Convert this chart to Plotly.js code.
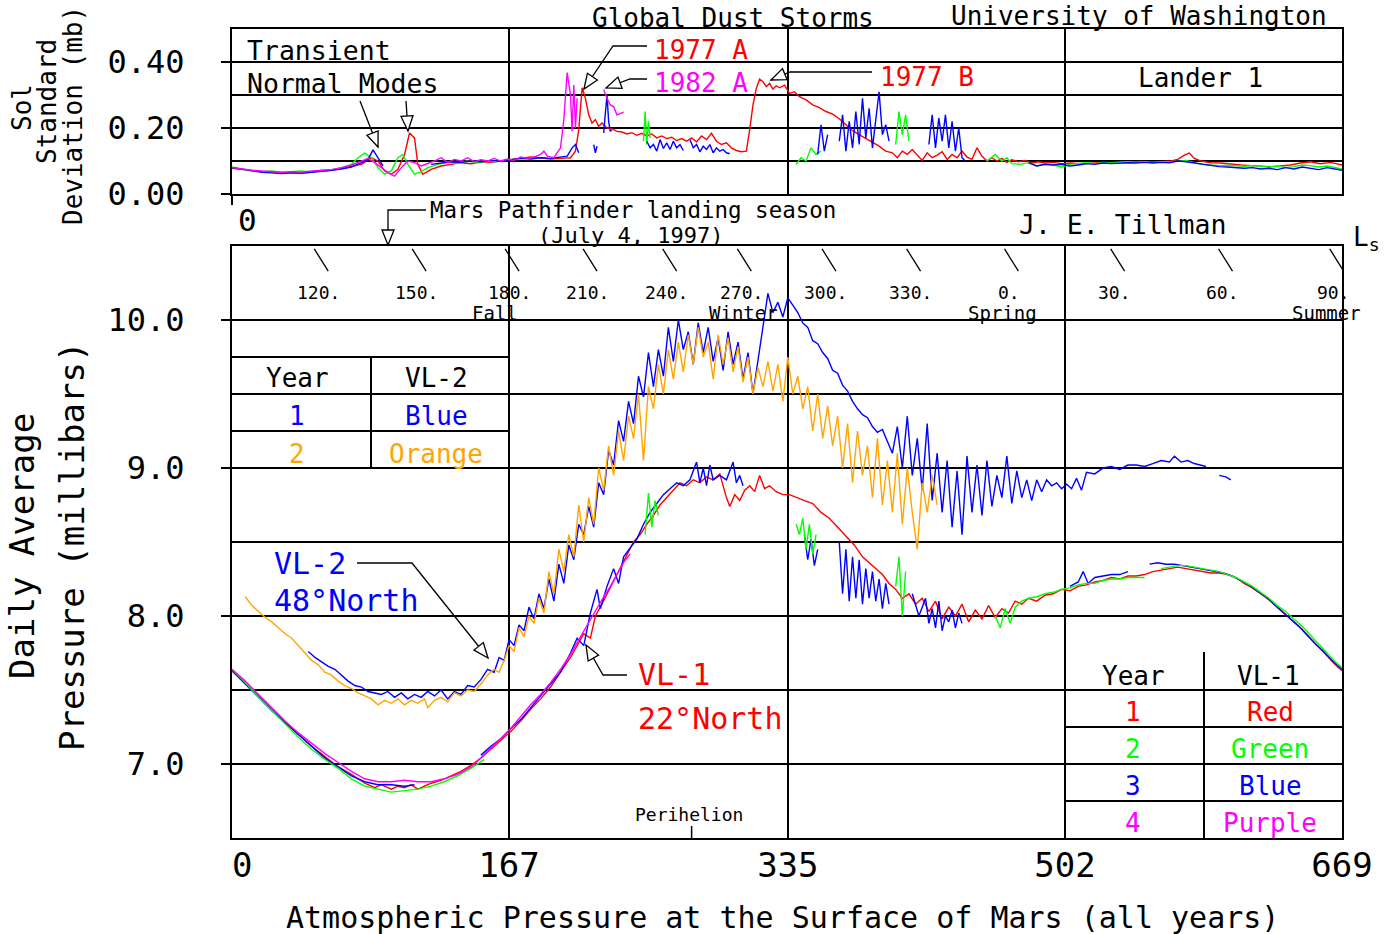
<!DOCTYPE html>
<html><head><meta charset="utf-8">
<script src="https://cdn.plot.ly/plotly-3.0.1.min.js"></script>
<style>html,body{margin:0;padding:0;background:#fff}</style>
</head><body>
<div id="chart" style="width:1392px;height:934px"></div>
<script>
// ---------------- DATA ----------------
const xTickVals = [0, 167, 335, 502, 669];
const xTickText = ['\u00a00', '167', '335', '502', '669'];
const lsLabels = ['120.','150.','180.','210.','240.','270.','300.','330.','0.','30.','60.','90.'];
const lsSols   = [52, 111, 167, 214, 262, 307, 358, 409, 468, 532, 597, 664];
const seasonNames = ['Fall', 'Winter', 'Spring', 'Summer'];
const seasonLs = ['180.', '270.', '0.', '90.'];
const perihelionSol = 277;

// VL-2 daily average pressure (mb): [sol, value]
const vl2Year1 = [[46,7.76],[50,7.72],[54,7.69],[58,7.66],[62,7.64],[66,7.60],[70,7.56],[74,7.53],[78,7.52],[82,7.49],[86,7.48],[90,7.47],[94,7.49],[98,7.45],[102,7.48],[106,7.44],[110,7.47],[114,7.45],[118,7.49],[122,7.46],[126,7.50],[130,7.44],[134,7.49],[138,7.47],[142,7.53],[146,7.52],[150,7.57],[154,7.64],[158,7.62],
[161,7.72],[164,7.70],[167,7.84],[170,7.80],[173,7.94],[176,7.90],[179,8.06],[182,7.98],[185,8.15],[188,8.05],[191,8.25],[194,8.10],[197,8.35],[200,8.22],[203,8.48],[206,8.38],[209,8.62],[212,8.55],[215,8.74],[218,8.60],[221,8.90],[224,8.82],[227,9.12],[230,9.02],[233,9.32],[236,9.18],[239,9.45],[242,9.30],[245,9.62],[248,9.48],[251,9.78],[254,9.55],[257,9.80],[260,9.62],[263,9.95],[266,9.72],[269,10.00],[272,9.80],[275,9.92],[278,9.70],[281,9.98],[284,9.78],[287,9.95],[290,9.72],[293,9.88],[296,9.66],[299,9.92],[302,9.70],[305,9.85],[308,9.60],[311,9.78],[314,9.50],[317,9.72],[320,9.95],[323,10.18],[326,10.05],[329,10.12],[332,10.02],[335,10.15],[338,10.10],[341,10.05],[344,9.98],[347,9.95],[350,9.86],[353,9.84],[356,9.78],[359,9.74],[362,9.66],[365,9.64],[368,9.56],[371,9.52],[374,9.45],[377,9.40],[380,9.36],[383,9.34],[386,9.28],[389,9.24],[392,9.26],[395,9.18],[398,9.10],[401,9.28],[404,9.00],[407,9.35],[410,8.95],[413,9.20],[416,8.85],[419,9.30],[422,8.78],[425,9.10],[428,8.70],[431,9.05],[434,8.60],[437,8.98],[440,8.55],[443,9.08],[446,8.70],[449,9.02],[452,8.68],[455,9.05],[458,8.74],[461,8.95],[464,8.80],[467,9.08],[470,8.76],[473,8.98],[476,8.80],[479,8.92],[482,8.78],[485,8.92],[488,8.84],[491,8.92],[494,8.88],[497,8.90],[500,8.86],[503,8.89],[506,8.86],[509,8.93],[512,8.85],[515,8.97],
[520,8.96],[525,9.00],[530,9.01],[535,8.99],[540,9.02],[545,9.02],[550,9.01],[555,9.03],[560,9.05],[565,9.04],[568,9.08],[572,9.04],[576,9.05],[580,9.03],[584,9.02],[587,9.01],[null,null],[595,8.95],[599,8.94],[602,8.92]];

const vl2Year2 = [[8,8.13],[12,8.07],[16,8.03],[20,7.99],[24,7.96],[28,7.92],[32,7.88],[36,7.85],[40,7.80],[44,7.75],[48,7.70],[52,7.67],[56,7.62],[60,7.60],[64,7.56],[68,7.53],[72,7.51],[76,7.48],[80,7.46],[84,7.44],[88,7.40],[92,7.43],[96,7.41],[100,7.44],[104,7.40],[108,7.43],[112,7.41],[116,7.44],[118,7.38],[122,7.43],[126,7.45],[130,7.42],[134,7.48],[138,7.46],[142,7.50],[146,7.49],[150,7.54],[154,7.60],[158,7.64],[161,7.62],[164,7.70],[167,7.80],[170,7.76],[173,7.92],[176,7.86],[179,8.00],[182,7.95],[185,8.12],[188,8.02],[191,8.30],[194,8.15],[197,8.45],[200,8.30],[203,8.55],[206,8.40],[209,8.75],[212,8.50],[215,8.80],[218,8.62],[221,9.00],[224,8.85],[227,9.15],[230,8.95],[233,9.25],[236,9.05],[239,9.35],[242,9.20],[245,9.50],[248,9.05],[251,9.55],[254,9.40],[257,9.70],[260,9.50],[263,9.80],[266,9.60],[269,9.85],[272,9.65],[275,9.90],[278,9.70],[281,9.95],[284,9.75],[287,9.85],[290,9.60],[293,9.90],[296,9.70],[299,9.88],[302,9.65],[305,9.82],[308,9.58],[311,9.75],[314,9.50],[317,9.68],[320,9.55],[323,9.72],[326,9.52],[329,9.70],[332,9.45],[335,9.75],[338,9.50],[341,9.62],[344,9.40],[347,9.55],[350,9.25],[353,9.50],[356,9.20],[359,9.42],[362,9.15],[365,9.35],[368,9.00],[371,9.30],[374,8.90],[377,9.25],[380,8.95],[383,9.15],[386,8.80],[389,9.20],[392,8.75],[395,9.05],[398,8.70],[401,9.10],[404,8.62],[407,9.00],[410,8.70],[413,8.45],[416,8.90],[419,8.70],[422,8.95],[425,8.75]];

// VL-1 daily average pressure (mb)
const vl1Year1 = [[0,7.63],[8,7.55],[16,7.46],[24,7.37],[32,7.28],[40,7.20],[48,7.12],[56,7.05],[64,6.98],[72,6.93],[80,6.87],[86,6.84],[90,6.86],[96,6.83],[100,6.85],[104,6.84],[108,6.86],[112,6.83],[116,6.85],[120,6.87],[126,6.89],[132,6.92],[138,6.95],[144,6.99],[150,7.04],[156,7.10],[162,7.16],[168,7.22],[174,7.29],[180,7.37],[186,7.44],[192,7.52],[198,7.62],[204,7.72],[208,7.80],[212,7.88],[216,7.85],[219,8.00],[222,8.06],[226,8.15],[230,8.24],[234,8.32],[238,8.42],[242,8.50],[246,8.55],[250,8.62],[254,8.68],[258,8.75],[262,8.80],[266,8.85],[270,8.90],[274,8.88],[278,8.92],[282,8.90],[286,8.94],[290,8.92],[294,8.96],[298,8.80],[300,8.74],[303,8.82],[306,8.78],[309,8.85],[312,8.88],[315,8.84],[318,8.95],[321,8.86],[324,8.88],[328,8.84],[332,8.82],[336,8.82],[340,8.80],[345,8.78],[350,8.76],[355,8.70],[360,8.66],[365,8.60],[370,8.54],[375,8.48],[380,8.40],[384,8.36],[388,8.32],[392,8.28],[396,8.22],[400,8.18],[404,8.12],[408,8.15],[412,8.08],[416,8.12],[420,8.03],[424,8.10],[428,7.98],[432,8.06],[436,8.00],[440,8.08],[444,7.96],[448,8.04],[452,7.98],[456,8.07],[460,7.99],[464,8.05],[468,8.02],[472,8.10],[476,8.08],[480,8.12],[485,8.10],[490,8.14],[495,8.15],[500,8.18],[505,8.17],[510,8.20],[515,8.21],[520,8.23],[525,8.24],[530,8.26],[535,8.25],[540,8.27],[545,8.27],[550,8.28],[555,8.30],[560,8.31],[565,8.32],[570,8.33],[575,8.32],[580,8.31],[585,8.30],[590,8.29],[595,8.29],[600,8.28],[605,8.26],[610,8.22],[615,8.19],[620,8.15],[625,8.11],[630,8.06],[635,8.01],[640,7.96],[645,7.91],[650,7.85],[655,7.79],[660,7.73],[665,7.67],[669,7.63]];

const vl1Year2 = [[0,7.64],[8,7.55],[16,7.45],[24,7.36],[32,7.27],[40,7.18],[48,7.10],[56,7.03],[64,6.97],[72,6.90],[80,6.85],[88,6.83],[96,6.81],[104,6.82],[112,6.83],[120,6.85],[128,6.88],[136,6.92],[144,6.97],[152,7.03],[null,null],
[249,8.55],[251,8.83],[253,8.60],[255,8.78],[257,8.68],[null,null],
[340,8.62],[342,8.55],[344,8.66],[346,8.45],[348,8.62],[350,8.42],[352,8.55],[null,null],
[400,8.20],[402,8.40],[404,8.00],[406,8.30],[null,null],
[460,8.00],[463,7.92],[466,8.05],[469,7.95],[472,8.06],[476,8.10],[480,8.12],[485,8.13],[490,8.15],[495,8.16],[500,8.18],[505,8.19],[510,8.21],[515,8.22],[520,8.22],[525,8.24],[530,8.25],[535,8.25],[540,8.26],[545,8.26],[550,8.26],[null,null],
[560,8.32],[565,8.33],[570,8.34],[575,8.34],[580,8.33],[585,8.32],[590,8.31],[595,8.30],[600,8.28],[605,8.26],[610,8.23],[615,8.20],[620,8.16],[625,8.12],[630,8.07],[635,8.03],[640,7.98],[645,7.93],[650,7.87],[655,7.81],[660,7.75],[665,7.69],[669,7.65]];

const vl1Year3 = [[0,7.63],[8,7.54],[16,7.45],[24,7.36],[32,7.28],[40,7.20],[48,7.12],[56,7.04],[64,6.98],[72,6.92],[80,6.88],[88,6.86],[96,6.86],[104,6.85],[110,6.86],[null,null],
[150,7.06],[156,7.12],[162,7.17],[168,7.24],[174,7.30],[180,7.38],[186,7.46],[192,7.54],[198,7.62],[204,7.75],[208,7.85],[212,7.80],[216,8.02],[220,8.18],[222,8.05],[226,8.20],[230,8.32],[233,8.22],[236,8.40],[240,8.46],[244,8.52],[248,8.62],[252,8.70],[256,8.76],[260,8.82],[264,8.86],[268,8.90],[272,8.88],[276,8.92],[280,9.04],[282,8.90],[284,9.00],[286,8.88],[288,9.02],[290,8.92],[294,8.95],[298,8.92],[302,9.04],[304,8.90],[306,8.95],[308,8.88],[null,null],
[345,8.55],[347,8.38],[349,8.52],[351,8.34],[353,8.45],[null,null],
[366,8.50],[368,8.15],[370,8.45],[372,8.10],[374,8.40],[376,8.12],[378,8.38],[380,8.08],[382,8.32],[384,8.12],[386,8.30],[388,8.10],[390,8.25],[392,8.05],[394,8.22],[396,8.08],[null,null],
[410,8.15],[414,8.00],[418,8.12],[420,7.95],[422,8.05],[424,7.92],[426,8.10],[428,7.90],[430,8.00],[432,7.96],[434,8.04],[436,7.92],[438,8.02],[440,7.95],[null,null],
[505,8.20],[510,8.23],[513,8.30],[516,8.22],[520,8.26],[525,8.27],[530,8.28],[535,8.28],[540,8.30],[null,null],
[553,8.35],[558,8.36],[563,8.35],[568,8.35],[573,8.34],[578,8.33],[583,8.32],[588,8.31],[593,8.30],[598,8.29],[603,8.27],[608,8.24],[613,8.21],[618,8.17],[623,8.13],[628,8.08],[633,8.03],[638,7.98],[643,7.93],[648,7.87],[653,7.81],[658,7.76],[663,7.70],[669,7.64]];

const vl1Year4 = [[0,7.64],[8,7.56],[16,7.47],[24,7.38],[32,7.29],[40,7.21],[48,7.14],[56,7.07],[64,7.01],[72,6.95],[80,6.90],[88,6.88],[96,6.88],[104,6.89],[112,6.88],[120,6.88],[128,6.90],[136,6.93],[144,6.98],[150,7.04],[156,7.11],[162,7.17],[168,7.24],[174,7.32],[180,7.40],[186,7.47],[192,7.55],[198,7.64],[204,7.74],[208,7.82],[212,7.90],[216,7.97],[220,8.06],[224,8.13],[228,8.20],[232,8.28],[236,8.36],[240,8.42]];

// VL-1 sol standard deviation (mb)
const sdYear1 = [[0,0.078],[6,0.074],[12,0.072],[18,0.068],[24,0.066],[30,0.064],[36,0.066],[42,0.065],[48,0.068],[54,0.070],[60,0.072],[66,0.078],[72,0.084],[78,0.090],[84,0.110],[88,0.100],[92,0.070],[96,0.060],[100,0.075],[104,0.120],[107,0.185],[110,0.170],[112,0.090],[115,0.060],[120,0.075],[126,0.085],[132,0.090],[138,0.095],[144,0.092],[150,0.098],[156,0.096],[162,0.100],[168,0.105],[174,0.110],[180,0.112],[186,0.110],[192,0.106],[198,0.108],[204,0.110],[207,0.130],[209,0.195],[211,0.322],[213,0.290],[215,0.240],[217,0.215],[219,0.225],[221,0.205],[223,0.215],[226,0.200],[229,0.198],[232,0.190],[235,0.188],[238,0.182],[241,0.186],[244,0.178],[247,0.184],[250,0.176],[253,0.182],[256,0.170],[259,0.176],[262,0.168],[265,0.172],[268,0.162],[271,0.168],[274,0.160],[277,0.170],[280,0.158],[283,0.176],[286,0.165],[289,0.184],[292,0.160],[295,0.150],[298,0.155],[301,0.140],[304,0.132],[307,0.128],[310,0.130],[312,0.195],[314,0.270],[316,0.320],[318,0.348],[320,0.340],[322,0.325],[324,0.335],[326,0.318],[328,0.328],[330,0.322],[333,0.330],[336,0.305],[339,0.310],[342,0.295],[346,0.285],[350,0.270],[354,0.262],[358,0.250],[362,0.242],[366,0.228],[370,0.210],[374,0.192],[378,0.180],[382,0.168],[386,0.155],[390,0.145],[394,0.130],[398,0.125],[401,0.110],[404,0.130],[407,0.120],[410,0.135],[413,0.118],[416,0.102],[419,0.125],[422,0.110],[425,0.118],[428,0.128],[431,0.105],[434,0.120],[437,0.110],[440,0.130],[443,0.112],[446,0.105],[449,0.140],[452,0.115],[455,0.100],[458,0.110],[461,0.100],[464,0.108],[467,0.096],[470,0.104],[474,0.098],[478,0.102],[482,0.094],[486,0.098],[490,0.094],[495,0.096],[500,0.092],[506,0.094],[512,0.091],[518,0.093],[524,0.096],[530,0.095],[536,0.098],[542,0.097],[548,0.099],[554,0.096],[560,0.098],[566,0.100],[570,0.105],[574,0.118],[577,0.124],[580,0.108],[584,0.100],[590,0.095],[596,0.094],[602,0.090],[608,0.088],[614,0.086],[620,0.084],[626,0.083],[632,0.085],[638,0.088],[644,0.094],[650,0.098],[656,0.092],[662,0.096],[669,0.088]];

const sdYear2 = [[0,0.082],[6,0.076],[12,0.070],[18,0.068],[24,0.070],[30,0.066],[36,0.068],[42,0.070],[48,0.066],[54,0.072],[60,0.074],[66,0.080],[72,0.090],[76,0.110],[80,0.124],[84,0.110],[88,0.080],[92,0.060],[96,0.070],[100,0.110],[103,0.120],[106,0.090],[110,0.060],[114,0.068],[118,0.080],[124,0.090],[130,0.096],[136,0.094],[142,0.100],[148,0.095],[154,0.100],[160,0.098],[null,null],
[248,0.160],[249,0.250],[250,0.150],[251,0.220],[252,0.170],[null,null],
[340,0.090],[343,0.110],[346,0.100],[349,0.140],[352,0.120],[355,0.130],[null,null],
[400,0.150],[402,0.250],[404,0.180],[406,0.240],[408,0.160],[null,null],
[455,0.100],[460,0.120],[464,0.100],[467,0.110],[470,0.092],[475,0.090],[480,0.095],[485,0.085],[490,0.090],[495,0.088],[500,0.082],[505,0.090],[510,0.093],[515,0.095],[520,0.092],[525,0.096],[530,0.094],[535,0.097],[540,0.098],[545,0.096],[550,0.098],[555,0.096],[560,0.098],[565,0.097],[570,0.099],[575,0.102],[580,0.095],[585,0.090],[590,0.088],[595,0.086],[600,0.087],[605,0.085],[610,0.084],[615,0.086],[620,0.083],[625,0.082],[630,0.084],[635,0.080],[640,0.083],[645,0.088],[650,0.086],[655,0.082],[660,0.085],[665,0.080],[669,0.076]];

const sdYear3 = [[0,0.080],[6,0.075],[12,0.070],[18,0.066],[24,0.064],[30,0.062],[36,0.064],[42,0.063],[48,0.066],[54,0.068],[60,0.072],[66,0.076],[72,0.082],[78,0.095],[82,0.105],[85,0.134],[88,0.110],[91,0.085],[null,null],
[120,0.090],[126,0.094],[132,0.098],[138,0.096],[144,0.100],[150,0.098],[156,0.102],[162,0.100],[168,0.104],[174,0.108],[180,0.106],[186,0.110],[192,0.108],[198,0.112],[202,0.115],[205,0.140],[207,0.150],[209,0.125],[null,null],
[218,0.150],[219,0.125],[220,0.145],[null,null],
[224,0.185],[225,0.240],[226,0.300],[227,0.220],[228,0.190],[229,0.195],[null,null],
[250,0.160],[252,0.140],[254,0.150],[256,0.130],[258,0.165],[260,0.138],[262,0.155],[264,0.135],[266,0.160],[268,0.140],[270,0.150],[272,0.132],[null,null],
[276,0.165],[278,0.140],[280,0.150],[282,0.128],[284,0.145],[286,0.135],[288,0.150],[290,0.125],[292,0.140],[294,0.130],[296,0.135],[298,0.125],[300,0.122],[null,null],
[353,0.120],[355,0.210],[357,0.130],[359,0.180],[null,null],
[366,0.160],[368,0.240],[370,0.130],[372,0.220],[374,0.140],[376,0.250],[378,0.150],[380,0.290],[382,0.170],[384,0.260],[386,0.140],[388,0.230],[390,0.310],[392,0.180],[394,0.210],[396,0.160],[null,null],
[420,0.150],[422,0.240],[424,0.140],[426,0.230],[428,0.160],[430,0.240],[432,0.140],[434,0.220],[436,0.130],[438,0.200],[440,0.110],[442,0.100],[null,null],
[480,0.095],[485,0.085],[490,0.090],[495,0.088],[500,0.090],[505,0.085],[510,0.088],[515,0.092],[520,0.090],[525,0.094],[530,0.092],[535,0.094],[540,0.095],[545,0.094],[550,0.096],[555,0.094],[560,0.096],[565,0.095],[570,0.100],[575,0.098],[580,0.094],[585,0.090],[590,0.085],[595,0.083],[600,0.082],[605,0.080],[610,0.078],[615,0.080],[620,0.076],[625,0.078],[630,0.074],[635,0.080],[640,0.076],[645,0.082],[650,0.078],[655,0.074],[660,0.080],[665,0.075],[669,0.072]];

const sdYear4 = [[0,0.080],[6,0.075],[12,0.072],[18,0.070],[24,0.068],[30,0.066],[36,0.068],[42,0.066],[48,0.070],[54,0.072],[60,0.074],[66,0.080],[72,0.088],[78,0.100],[82,0.108],[86,0.095],[90,0.080],[94,0.065],[98,0.054],[102,0.080],[106,0.100],[110,0.095],[114,0.085],[118,0.092],[122,0.100],[126,0.110],[130,0.095],[134,0.105],[138,0.100],[142,0.110],[146,0.098],[150,0.104],[154,0.100],[158,0.108],[162,0.100],[166,0.106],[170,0.102],[174,0.112],[178,0.108],[182,0.112],[186,0.120],[188,0.130],[190,0.115],[194,0.110],[198,0.140],[200,0.226],[202,0.368],[204,0.300],[205,0.190],[206,0.330],[207,0.200],[208,0.290],[null,null],
[224,0.317],[226,0.290],[228,0.270],[230,0.265],[232,0.240],[234,0.245],[236,0.248]];

// ---------------- LAYOUT HELPERS (pixel -> paper) ----------------
const PL = 232, PR = 1342, PT = 29, PB = 838;
const X = p => (p - PL) / (PR - PL);
const Y = p => (PB - p) / (PB - PT);
const F = 'DejaVu Sans Mono, monospace';
const RED = '#ff0000', GREEN = '#00ff00', BLUE = '#0000ff', MAG = '#ff00ff', ORANGE = '#ffa500';

function trace(pairs, color, top) {
  return {x: pairs.map(p => p[0]), y: pairs.map(p => p[1]), mode: 'lines',
    line: {color: color, width: 1.4}, xaxis: top ? 'x2' : 'x', yaxis: top ? 'y2' : 'y',
    connectgaps: false, hoverinfo: 'skip', showlegend: false};
}
const annotations = [];
function txt(x, y, text, size, color, opts) {
  annotations.push(Object.assign({xref: 'paper', yref: 'paper', x: X(x), y: Y(y), text: text,
    showarrow: false, font: {family: F, size: size, color: color || '#000'},
    xanchor: 'center', yanchor: 'middle'}, opts || {}));
}
const shapes = [];
function seg(x0, y0, x1, y1, w) {
  shapes.push({type: 'line', xref: 'paper', yref: 'paper', x0: X(x0), y0: Y(y0), x1: X(x1), y1: Y(y1),
    line: {color: '#000', width: w || 1.5}});
}
function arrow(pts) {
  let d = '';
  pts.forEach((p, i) => { d += (i ? ' L ' : 'M ') + X(p[0]) + ' ' + Y(p[1]); });
  shapes.push({type: 'path', xref: 'paper', yref: 'paper', path: d, line: {color: '#000', width: 1.3}});
  const t = pts[pts.length - 1], s = pts[pts.length - 2];
  let dx = t[0] - s[0], dy = t[1] - s[1];
  const L = Math.hypot(dx, dy); dx /= L; dy /= L;
  const cx = t[0] - dx * 15, cy = t[1] - dy * 15, nx = -dy * 6, ny = dx * 6;
  const tri = 'M ' + X(t[0]) + ' ' + Y(t[1]) + ' L ' + X(cx + nx) + ' ' + Y(cy + ny) +
    ' L ' + X(cx - nx) + ' ' + Y(cy - ny) + ' Z';
  shapes.push({type: 'path', xref: 'paper', yref: 'paper', path: tri, fillcolor: '#fff', line: {color: '#000', width: 1.3}});
}

// Titles and header texts
txt(733, 18, 'Global Dust Storms', 26);
txt(1139, 16, 'University of Washington', 26);
txt(245, 50, 'Transient', 26.5, '#000', {xanchor: 'left'});
txt(245, 84, 'Normal Modes', 26.5, '#000', {xanchor: 'left'});
txt(652, 50, '1977 A', 26, RED, {xanchor: 'left'});
txt(652, 83, '1982 A', 26, MAG, {xanchor: 'left'});
txt(878, 77, '1977 B', 26, RED, {xanchor: 'left'});
txt(1200, 78, 'Lander 1', 26);
txt(247, 220, '0', 31);
txt(428, 210, 'Mars Pathfinder landing season', 22.5, '#000', {xanchor: 'left'});
txt(630, 235, '(July 4, 1997)', 22);
txt(1122, 224, 'J. E. Tillman', 26.5);
txt(1366, 238, 'L<sub>s</sub>', 26);
txt(689, 814, 'Perihelion', 18);

// Axis titles
txt(22, 108, 'Sol', 26, '#000', {textangle: -90});
txt(47, 102, 'Standard', 26, '#000', {textangle: -90});
txt(73, 116, 'Deviation (mb)', 26, '#000', {textangle: -90});
txt(22, 546, 'Daily Average', 34, '#000', {textangle: -90});
txt(72, 547, 'Pressure (millibars)', 34, '#000', {textangle: -90});
txt(782, 917, 'Atmospheric Pressure at the Surface of Mars (all years)', 30);

// Lander labels
txt(272, 563, 'VL-2', 30, BLUE, {xanchor: 'left'});
txt(272, 600, '48°North', 30, BLUE, {xanchor: 'left'});
txt(636, 674, 'VL-1', 30, RED, {xanchor: 'left'});
txt(636, 718, '22°North', 30, RED, {xanchor: 'left'});

// VL-2 table
txt(297, 378, 'Year', 26); txt(436, 378, 'VL-2', 26);
txt(297, 416, '1', 26, BLUE); txt(436, 416, 'Blue', 26, BLUE);
txt(297, 454, '2', 26, ORANGE); txt(436, 454, 'Orange', 26, ORANGE);
seg(232, 357, 508, 357, 2); seg(232, 431, 508, 431, 2); seg(371, 357, 371, 467, 2);
// VL-1 table
txt(1133, 676, 'Year', 26); txt(1268, 676, 'VL-1', 26);
txt(1133, 712, '1', 26, RED); txt(1270, 712, 'Red', 26, RED);
txt(1133, 749, '2', 26, GREEN); txt(1270, 749, 'Green', 26, GREEN);
txt(1133, 786, '3', 26, BLUE); txt(1270, 786, 'Blue', 26, BLUE);
txt(1133, 823, '4', 26, MAG); txt(1270, 823, 'Purple', 26, MAG);
seg(1064, 727, 1342, 727, 2); seg(1064, 801, 1342, 801, 2); seg(1204, 652, 1204, 838, 2);

// Misc small marks
seg(232, 194, 232, 205, 2);
shapes.push({type: 'line', xref: 'x', yref: 'paper', x0: perihelionSol, x1: perihelionSol, y0: Y(838), y1: Y(826), line: {color: '#000', width: 1.5}});

// Arrows
arrow([[647, 46], [613, 46], [584, 89]]);
arrow([[647, 79], [630, 79], [606, 88]]);
arrow([[872, 72], [790, 72], [771, 80]]);
arrow([[360, 101], [378, 147]]);
arrow([[406, 101], [408, 131]]);
arrow([[426, 210], [388, 210], [388, 245]]);
arrow([[357, 563], [412, 563], [488, 658]]);
arrow([[627, 675], [603, 675], [586, 645]]);

// Ls ticks (slashes) and labels, in data coordinates
lsLabels.forEach((lab, i) => {
  const s = lsSols[i];
  shapes.push({type: 'line', xref: 'x', yref: 'y', x0: s - 2.4, y0: 10.48, x1: s + 6, y1: 10.33,
    line: {color: '#000', width: 1.3}});
  annotations.push({xref: 'x', yref: 'y', x: s, y: 10.185, text: lab, showarrow: false,
    font: {family: F, size: 18, color: '#000'}, xanchor: 'center', yanchor: 'middle'});
});
const seasonShift = [-14, 2, -6, -7];
seasonNames.forEach((nm, i) => {
  const s = lsSols[lsLabels.indexOf(seasonLs[i])];
  annotations.push({xref: 'x', yref: 'y', x: s, y: 10.05, xshift: seasonShift[i], text: nm, showarrow: false,
    font: {family: F, size: 19, color: '#000'}, xanchor: 'center', yanchor: 'middle'});
});

const traces = [
  trace(vl2Year1, BLUE, false), trace(vl2Year2, ORANGE, false),
  trace(vl1Year1, RED, false), trace(vl1Year3, BLUE, false), trace(vl1Year2, GREEN, false), trace(vl1Year4, MAG, false),
  trace(sdYear1, RED, true), trace(sdYear2, GREEN, true), trace(sdYear3, BLUE, true), trace(sdYear4, MAG, true)
];

const axisCommon = {showline: true, mirror: true, linecolor: '#000', linewidth: 2, zeroline: false,
  showgrid: true, gridcolor: '#000', gridwidth: 2, fixedrange: true};
const layout = {
  width: 1392, height: 934, paper_bgcolor: '#fff', plot_bgcolor: '#fff',
  margin: {l: 232, r: 50, t: 29, b: 96}, showlegend: false,
  font: {family: F, color: '#000'},
  xaxis: Object.assign({}, axisCommon, {domain: [0, 1], anchor: 'y', range: [0, 669],
    tickmode: 'array', tickvals: xTickVals, ticktext: xTickText, ticks: '',
    tickfont: {family: F, size: 34, color: '#000'}, ticklabelstandoff: -4}),
  xaxis2: Object.assign({}, axisCommon, {domain: [0, 1], anchor: 'y2', range: [0, 669], matches: 'x',
    tickmode: 'array', tickvals: xTickVals, showticklabels: false, ticks: ''}),
  yaxis: Object.assign({}, axisCommon, {domain: [0, 0.7318], anchor: 'x', range: [6.5, 10.5],
    tick0: 7, dtick: 1, tickformat: '.1f', ticks: 'outside', ticklen: 9, tickwidth: 2, tickcolor: '#000',
    tickfont: {family: F, size: 32, color: '#000'}, ticklabelstandoff: 30,
    minor: {tick0: 6.5, dtick: 0.5, showgrid: true, gridcolor: '#000', gridwidth: 2, ticks: ''}}),
  yaxis2: Object.assign({}, axisCommon, {domain: [0.796, 1], anchor: 'x2', range: [0, 0.5],
    tick0: 0, dtick: 0.2, tickformat: '.2f', ticks: 'outside', ticklen: 9, tickwidth: 2, tickcolor: '#000',
    tickfont: {family: F, size: 32, color: '#000'}, ticklabelstandoff: 30,
    minor: {tick0: 0, dtick: 0.1, showgrid: true, gridcolor: '#000', gridwidth: 2, ticks: ''}}),
  annotations: annotations, shapes: shapes
};
Plotly.newPlot('chart', traces, layout, {displayModeBar: false, staticPlot: true});
</script>
</body></html>
